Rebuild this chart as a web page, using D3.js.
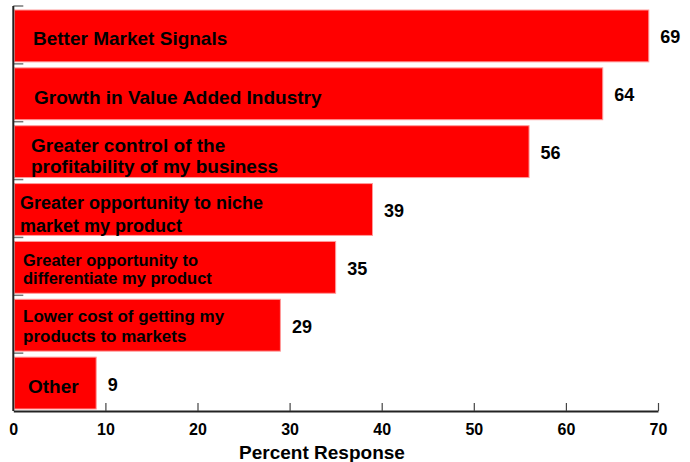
<!DOCTYPE html>
<html>
<head>
<meta charset="utf-8">
<script src="https://cdn.jsdelivr.net/npm/d3@7"></script>
<style>
	body { margin: 0; background: #fff; }
	text { font-family: "Liberation Sans", Arial, sans-serif; font-weight: bold; fill: #000; }
</style>
</head>
<body>
<svg id="chart" width="690" height="462"></svg>
<script>
// data
var categories = [
	"Better Market Signals",
	"Growth in Value Added Industry",
	"Greater control of the\nprofitability of my business",
	"Greater opportunity to niche\nmarket my product",
	"Greater opportunity to\ndifferentiate my product",
	"Lower cost of getting my\nproducts to markets",
	"Other"
];
var values = [69, 64, 56, 39, 35, 29, 9];
var xTicks = [0, 10, 20, 30, 40, 50, 60, 70];
var xTitle = "Percent Response";

// label layout (picked to match the picture)
var labelX = [33, 34, 31, 20, 23, 23, 28];
var labelSize = [19, 19, 19, 18, 16.5, 17, 19];
var labelGap = [0, 0, 21.7, 23, 18.3, 20, 0];
var labelShift = [2, 3, 4, 5, 2, 1, 3];

var svg = d3.select("#chart");

var x = d3.scaleLinear().domain([0, 70]).range([13.3, 658]);
var y = d3.scaleBand().domain(categories).range([6, 411]).padding(0);

// bars
svg.selectAll("rect.bar")
	.data(values)
	.enter().append("rect")
	.attr("class", "bar")
	.attr("x", x(0) + 1)
	.attr("y", function (d, i) { return y(categories[i]) + 4; })
	.attr("width", function (d) { return x(d) - x(0) - 1; })
	.attr("height", y.bandwidth() - 6)
	.attr("fill", "#ff0000")
	.attr("stroke", "#ff9a9a")
	.attr("stroke-width", 1);

// labels inside bars
categories.forEach(function (c, i) {
	var lines = c.split("\n");
	var mid = y(c) + 4 + (y.bandwidth() - 6) / 2 + labelShift[i];
	var t = svg.append("text")
		.attr("font-size", labelSize[i]);
	lines.forEach(function (ln, k) {
		var cy = mid + (k - (lines.length - 1) / 2) * labelGap[i];
		t.append("tspan")
			.attr("x", labelX[i])
			.attr("y", cy)
			.attr("dy", "0.36em")
			.text(ln);
	});
});

// value labels
svg.selectAll("text.val")
	.data(values)
	.enter().append("text")
	.attr("class", "val")
	.attr("font-size", 18)
	.attr("x", function (d) { return x(d) + 11.5; })
	.attr("y", function (d, i) { return y(categories[i]) + 4 + (y.bandwidth() - 6) / 2 + 1; })
	.attr("dy", "0.36em")
	.text(function (d) { return d; });

// left axis with inward ticks at band tops
svg.selectAll("line.ytick")
	.data(categories)
	.enter().append("line")
	.attr("x1", x(0)).attr("x2", x(0) + 10)
	.attr("y1", function (d) { return y(d); })
	.attr("y2", function (d) { return y(d); })
	.attr("stroke", "#777")
	.attr("stroke-width", 1.5);

svg.append("line")
	.attr("x1", x(0)).attr("x2", x(0))
	.attr("y1", 6).attr("y2", 411)
	.attr("stroke", "#222")
	.attr("stroke-width", 2);

// bottom axis
var xAxis = d3.axisBottom(x)
	.tickValues(xTicks)
	.tickSizeInner(-8)
	.tickSizeOuter(0)
	.tickPadding(12.5);

var gx = svg.append("g")
	.attr("transform", "translate(0,411)")
	.call(xAxis);
gx.select(".domain").attr("stroke", "#222").attr("stroke-width", 2);
gx.selectAll(".tick line").attr("stroke", "#444").attr("stroke-width", 1.2);
gx.selectAll(".tick text")
	.attr("font-size", 16)
	.attr("font-family", "Liberation Sans, Arial, sans-serif")
	.attr("font-weight", "bold")
	.attr("fill", "#000");
gx.selectAll(".tick").filter(function (d) { return d === 0; }).select("line").remove();

svg.append("text")
	.attr("x", 322)
	.attr("y", 452)
	.attr("dy", "0.36em")
	.attr("text-anchor", "middle")
	.attr("font-size", 19)
	.text(xTitle);
</script>
</body>
</html>
